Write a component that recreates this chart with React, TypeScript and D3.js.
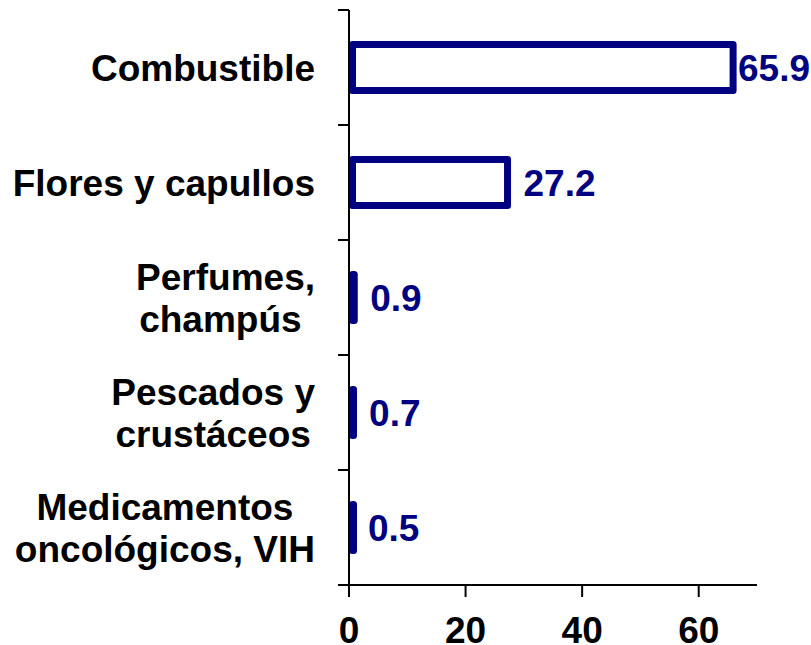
import React from "react";
import * as d3 from "d3";

const categories = [
  "Combustible",
  "Flores y capullos",
  "Perfumes,\nchampús ",
  "Pescados y\ncrustáceos",
  "Medicamentos\noncológicos, VIH",
];
const values = [65.9, 27.2, 0.9, 0.7, 0.5];
const valueLabels = ["65.9", "27.2", "0.9", "0.7", "0.5"];
const xTicks = [0, 20, 40, 60];

const W = 811;
const H = 645;
const NAVY = "#000080";
const FONT = "Arial, 'Liberation Sans', Helvetica, sans-serif";

let ctx: CanvasRenderingContext2D | null = null;
function measure(s: string, fs: number): number {
  if (!ctx) ctx = document.createElement("canvas").getContext("2d");
  if (!ctx) return s.length * fs * 0.55;
  ctx.font = `bold ${fs}px ${FONT}`;
  return ctx.measureText(s).width;
}

export default function App() {
  const x = d3.scaleLinear().domain([0, 70]).range([349, 757]);
  const y = d3
    .scaleBand<string>()
    .domain(categories)
    .range([10, 585])
    .paddingInner(0.6)
    .paddingOuter(0.3);
  const step = y.step();
  const sw = 7;
  const fs = 37;
  const labelRight = 315;

  return (
    <svg
      width={W}
      height={H}
      style={{ position: "absolute", left: 0, top: 0, background: "#fff" }}
      fontFamily={FONT}
    >
      {/* bars */}
      {categories.map((c, i) => {
        const v = values[i];
        const x0 = x(0) + sw / 2;
        const w = Math.max(1, x(v) - x0);
        return (
          <rect
            key={c}
            x={x0}
            y={y(c)!}
            width={w}
            height={y.bandwidth()}
            fill="#fff"
            stroke={NAVY}
            strokeWidth={sw}
            strokeLinejoin="round"
          />
        );
      })}
      {/* value labels */}
      {categories.map((c, i) => {
        const v = values[i];
        const lx = Math.min(x(v) + 16, 738);
        return (
          <text
            key={c}
            x={lx}
            y={y(c)! + y.bandwidth() / 2}
            dy="0.36em"
            fontSize={fs}
            fontWeight="bold"
            fill={NAVY}
          >
            {valueLabels[i]}
          </text>
        );
      })}
      {/* y axis */}
      <line x1={x(0)} x2={x(0)} y1={10} y2={585} stroke="#000" strokeWidth={2} />
      {d3.range(categories.length + 1).map((k) => (
        <line
          key={k}
          x1={x(0) - 11}
          x2={x(0)}
          y1={10 + k * step}
          y2={10 + k * step}
          stroke="#000"
          strokeWidth={2}
        />
      ))}
      {/* category labels: lines centred within block, block right-aligned */}
      {categories.map((c) => {
        const lines = c.split("\n");
        const cy = y(c)! + y.bandwidth() / 2;
        const lh = 42.5;
        const start = cy - ((lines.length - 1) * lh) / 2;
        const maxW = Math.max(...lines.map((l) => measure(l.trimEnd(), fs)));
        const cx = labelRight - maxW / 2;
        return (
          <text
            key={c}
            x={cx}
            textAnchor="middle"
            fontSize={fs}
            fontWeight="bold"
            fill="#000"
            style={{ whiteSpace: "pre" }}
          >
            {lines.map((l, j) => (
              <tspan key={j} x={cx} y={start + j * lh} dy="0.36em">
                {l}
              </tspan>
            ))}
          </text>
        );
      })}
      {/* x axis */}
      <line x1={338} x2={x(70)} y1={585} y2={585} stroke="#000" strokeWidth={2} />
      {xTicks.map((t) => (
        <g key={t}>
          <line x1={x(t)} x2={x(t)} y1={585} y2={597} stroke="#000" strokeWidth={2} />
          <text
            x={x(t)}
            y={643}
            textAnchor="middle"
            fontSize={fs}
            fontWeight="bold"
            fill="#000"
          >
            {t}
          </text>
        </g>
      ))}
    </svg>
  );
}
